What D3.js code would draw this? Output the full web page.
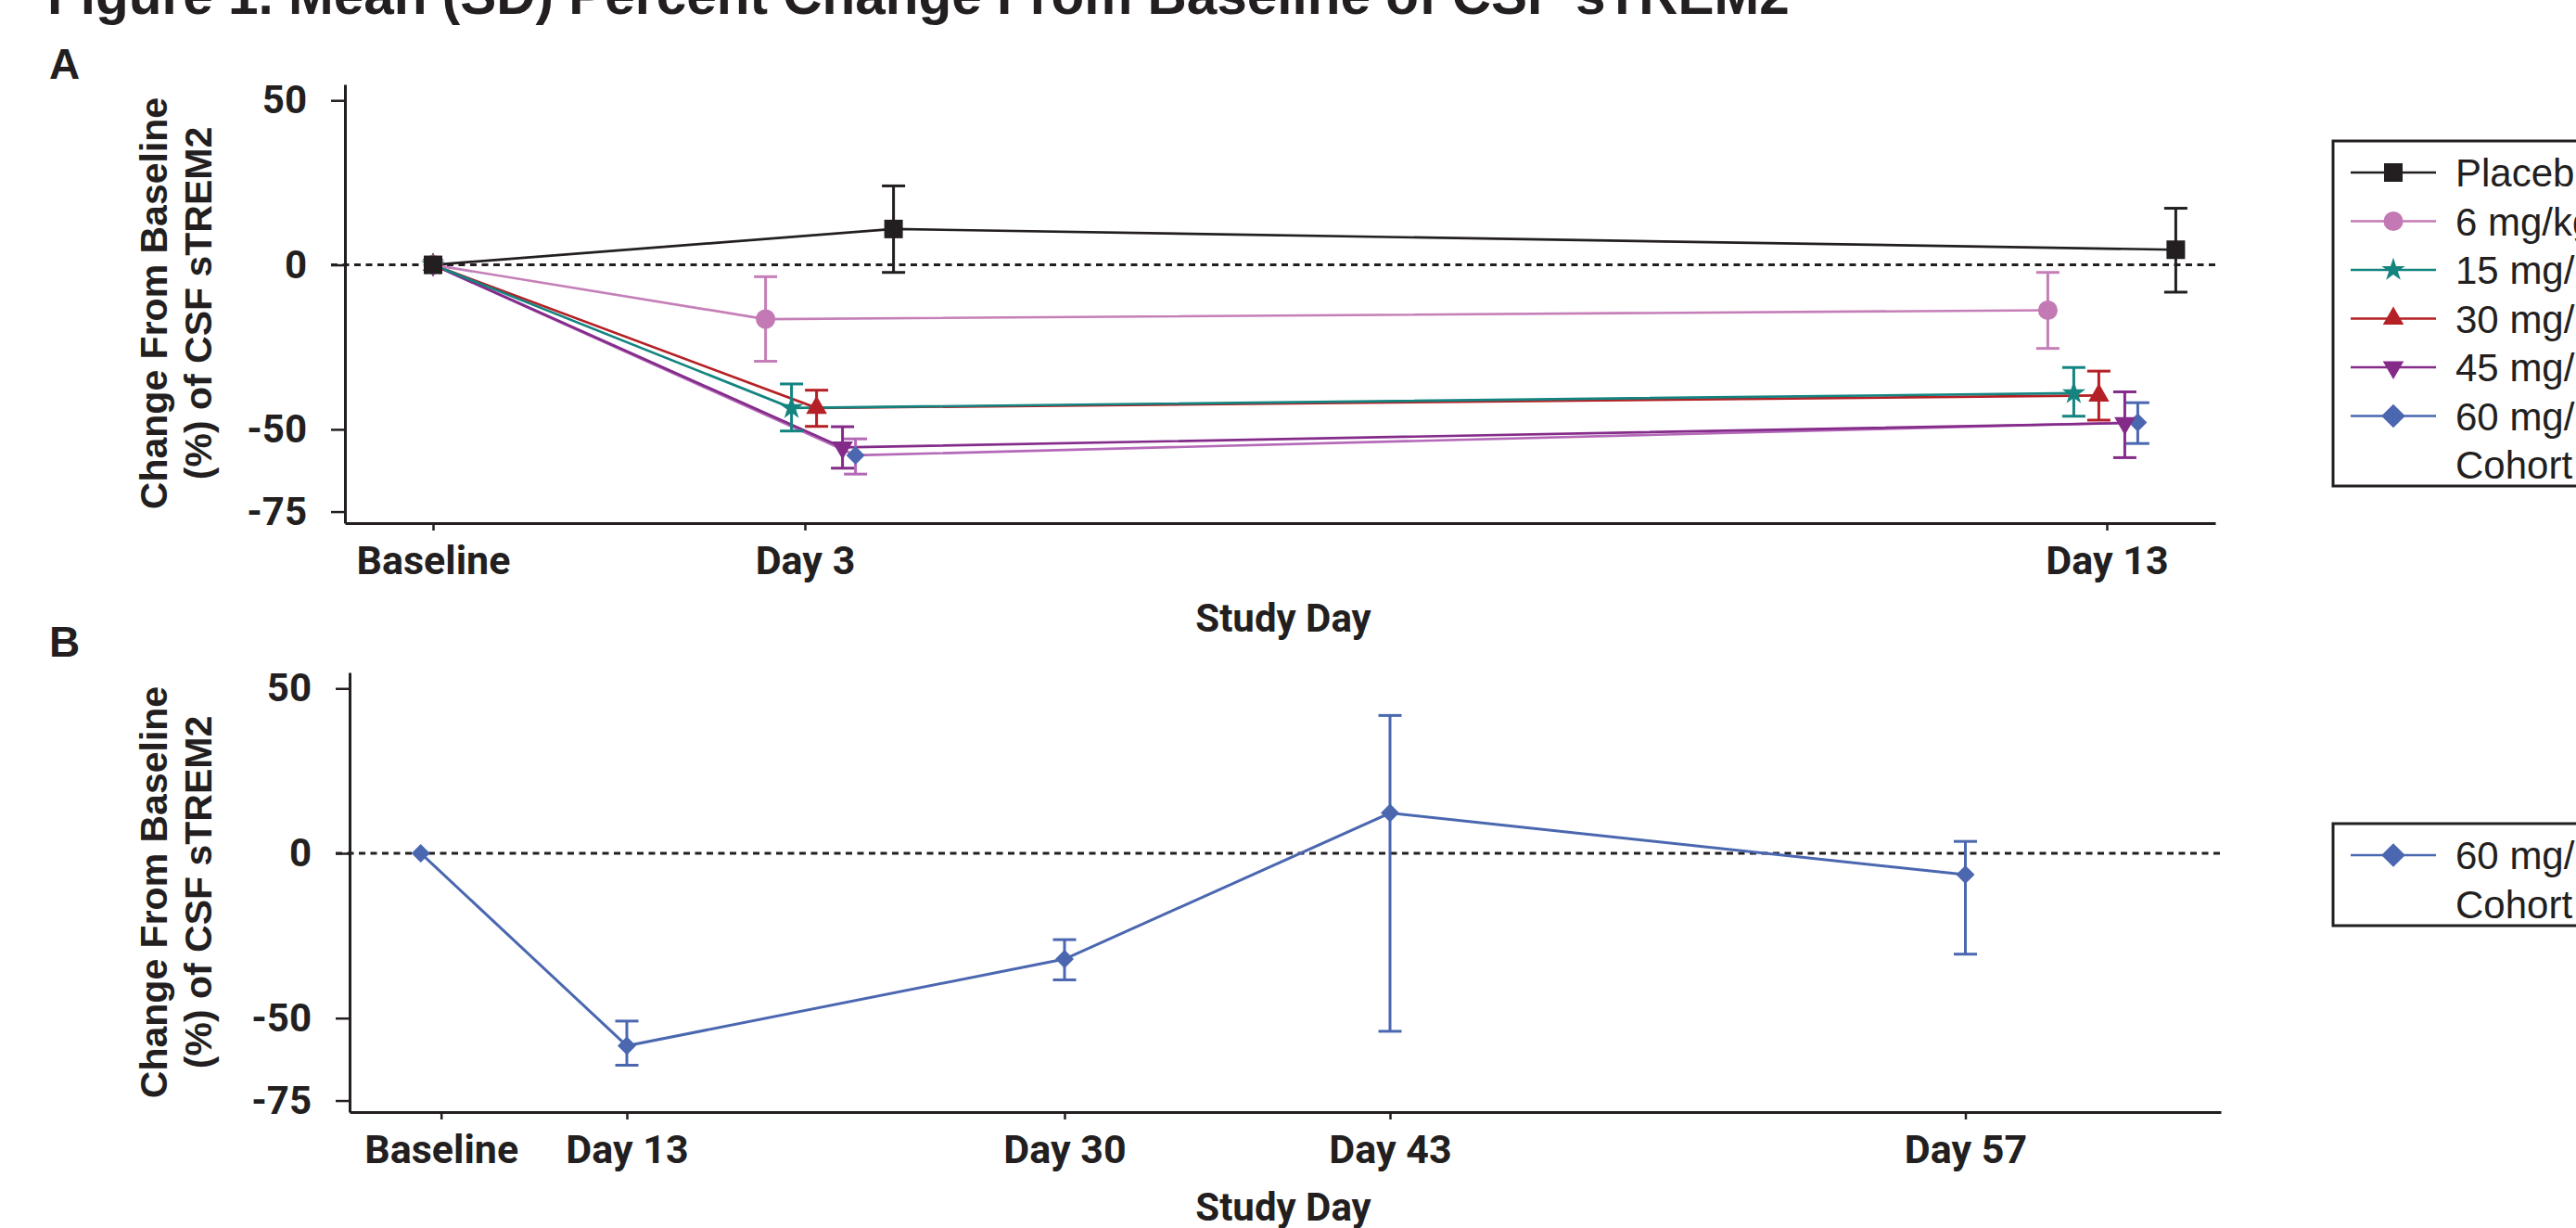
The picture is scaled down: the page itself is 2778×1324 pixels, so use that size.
<!DOCTYPE html>
<html>
<head>
<meta charset="utf-8">
<script src="https://cdnjs.cloudflare.com/ajax/libs/d3/7.8.5/d3.min.js"></script>
<style>
  body { margin: 0; background: #fff; }
  .tick text { font-family: Roboto, "Liberation Sans", sans-serif; font-weight: 700; fill: #231f20; }
</style>
</head>
<body>
<svg id="chart"></svg>
<script>
// ---------- Panel A data ----------
var dayA = [0, 3, 13];
var dayLabelA = ["Baseline", "Day 3", "Day 13"];
var groupA = ["Placebo", "6 mg/kg", "15 mg/kg", "30 mg/kg", "45 mg/kg", "60 mg/kg"];

var placeboMean = [0, 10.9, 4.6];
var placeboLow  = [0, -2.3, -8.3];
var placeboHigh = [0, 24.0, 17.2];
var mg6Mean  = [0, -16.5, -13.8];
var mg6Low   = [0, -29.3, -25.4];
var mg6High  = [0, -3.6, -2.3];
var mg15Mean = [0, -43.5, -39.0];
var mg15Low  = [0, -50.5, -46.0];
var mg15High = [0, -36.2, -31.2];
var mg30Mean = [0, -43.5, -39.7];
var mg30Low  = [0, -49.1, -47.2];
var mg30High = [0, -38.1, -32.3];
var mg45Mean = [0, -55.5, -48.1];
var mg45Low  = [0, -61.8, -58.6];
var mg45High = [0, -49.2, -38.6];
var mg60Mean = [0, -57.9, -47.9];
var mg60Low  = [0, -63.6, -54.3];
var mg60High = [0, -52.9, -41.9];

// ---------- Panel B data ----------
var dayB = [0, 13, 30, 43, 57];
var dayLabelB = ["Baseline", "Day 13", "Day 30", "Day 43", "Day 57"];
var cohortMean = [0, -58.4, -32.1, 12.2, -6.5];
var cohortLow  = [0, -64.3, -38.4, -54.0, -30.6];
var cohortHigh = [0, -50.9, -26.2, 41.8, 3.6];

var yTicks = [50, 0, -50, -75];

// ---------- styles ----------
var ink = "#231f20";
var blue = "#4a67b0";
var markerColA = [ink, "#c279b4", "#138480", "#b42025", "#842b8a", blue];
var lineColA   = [ink, "#c57fb8", "#138480", "#b42025", "#842b8a", "#b469b8"];
var dodgeA = [85, -53, -25, 2, 30, 44];   // px, side by side at each visit
var shiftA = [0, 10.6, -10.6];

var markers = [
  {type: d3.symbolSquare, size: 400, rot: 0},
  {type: d3.symbolCircle, size: 350, rot: 0},
  {type: d3.symbolStar, size: 200, rot: 0},
  {type: d3.symbolTriangle, size: 220, rot: 0},
  {type: d3.symbolTriangle, size: 220, rot: 180},
  {type: d3.symbolSquare, size: 200, rot: 45}
];

var svg = d3.select("#chart").attr("width", 2778).attr("height", 1324);

// title (cut off at the top edge in the original)
svg.append("text")
  .attr("x", 51).attr("y", 15)
  .style("font-family", "Liberation Sans, Arial, sans-serif")
  .style("font-weight", 700).style("font-size", "58.5px").style("fill", ink)
  .text("Figure 1. Mean (SD) Percent Change From Baseline of CSF sTREM2");

function panelLetter(txt, y) {
  svg.append("text").attr("x", 53).attr("y", y)
    .style("font-family", "Liberation Sans, Arial, sans-serif")
    .style("font-weight", 700).style("font-size", "46px").style("fill", ink)
    .text(txt);
}
panelLetter("A", 85);
panelLetter("B", 708);

function yTitle(cy) {
  var lines = ["Change From Baseline", "(%) of CSF sTREM2"];
  var xs = [180, 228];
  lines.forEach(function(l, i) {
    svg.append("text")
      .attr("transform", "translate(" + xs[i] + "," + cy + ") rotate(-90)")
      .attr("text-anchor", "middle")
      .style("font-family", "Liberation Sans, Arial, sans-serif")
      .style("font-weight", 700).style("font-size", "41px").style("fill", ink)
      .text(l);
  });
}

function drawAxes(x, y, ticks, labels, axisY, axisX) {
  var gy = svg.append("g").attr("transform", "translate(" + axisX + ",0)")
    .call(d3.axisLeft(y).tickValues(yTicks).tickFormat(function(d){ return String(d); })
      .tickSize(15).tickSizeOuter(0).tickPadding(26));
  var gx = svg.append("g").attr("transform", "translate(0," + axisY + ")")
    .call(d3.axisBottom(x).tickValues(ticks).tickFormat(function(d, i){ return labels[i]; })
      .tickSize(8).tickSizeOuter(0).tickPadding(16));
  [gy, gx].forEach(function(g) {
    g.select(".domain").attr("stroke", ink).attr("stroke-width", 3);
    g.selectAll(".tick line").attr("stroke", ink).attr("stroke-width", 2.5);
    g.selectAll(".tick text").style("font-size", "42px");
  });
  gx.selectAll(".tick text").style("font-size", "43px");
  // dashed zero line
  svg.append("line")
    .attr("x1", axisX - 15).attr("x2", x.range()[x.range().length - 1])
    .attr("y1", y(0)).attr("y2", y(0))
    .attr("stroke", ink).attr("stroke-width", 3).attr("stroke-dasharray", "7,5.5");
}

function studyDay(yb) {
  svg.append("text").attr("x", 1384).attr("y", yb).attr("text-anchor", "middle")
    .style("font-family", "Roboto, Liberation Sans, sans-serif")
    .style("font-weight", 700).style("font-size", "42px").style("fill", ink)
    .text("Study Day");
}

function symbolPath(m) { return d3.symbol().type(m.type).size(m.size)(); }

function drawErr(g, px, lo, hi, col) {
  g.append("line").attr("x1", px).attr("x2", px).attr("y1", lo).attr("y2", hi)
    .attr("stroke", col).attr("stroke-width", 3);
  [lo, hi].forEach(function(v) {
    g.append("line").attr("x1", px - 12.5).attr("x2", px + 12.5).attr("y1", v).attr("y2", v)
      .attr("stroke", col).attr("stroke-width", 3);
  });
}

function legendText(g, x, y, txt) {
  g.append("text").attr("x", x).attr("y", y).attr("dy", "0.36em")
    .style("font-family", "Liberation Sans, Arial, sans-serif").style("font-size", "42px").style("fill", ink)
    .text(txt);
}

// ================= Panel A =================
var yA = d3.scaleLinear().domain([-78.5, 54.85]).range([564, 91]);
var xA = d3.scaleLinear().domain([-0.71, 0, 3, 13, 13.83]).range([372, 467, 868, 2272, 2389]);

drawAxes(xA, yA, dayA, dayLabelA, 564, 372);
yTitle(327);
studyDay(681);

var meansA = [placeboMean, mg6Mean, mg15Mean, mg30Mean, mg45Mean, mg60Mean];
var lowsA  = [placeboLow, mg6Low, mg15Low, mg30Low, mg45Low, mg60Low];
var highsA = [placeboHigh, mg6High, mg15High, mg30High, mg45High, mg60High];

function pxA(s, t) { return xA(dayA[t]) + (t > 0 ? dodgeA[s] + shiftA[t] : 0); }

var drawOrder = [5, 4, 3, 2, 1, 0];
var gLines = svg.append("g"), gErr = svg.append("g"), gMark = svg.append("g");
drawOrder.forEach(function(s) {
  var pts = dayA.map(function(d, t) { return [pxA(s, t), yA(meansA[s][t])]; });
  gLines.append("path").attr("d", d3.line()(pts))
    .attr("fill", "none").attr("stroke", lineColA[s]).attr("stroke-width", 2.7);
  dayA.forEach(function(d, t) {
    if (lowsA[s][t] === highsA[s][t]) return;
    var col = (s === 5 && t === 2) ? blue : lineColA[s];
    drawErr(gErr, pxA(s, t), yA(lowsA[s][t]), yA(highsA[s][t]), col);
  });
  dayA.forEach(function(d, t) {
    gMark.append("path").attr("d", symbolPath(markers[s]))
      .attr("transform", "translate(" + pxA(s, t) + "," + yA(meansA[s][t]) + ") rotate(" + markers[s].rot + ")")
      .attr("fill", markerColA[s]);
  });
});

// legend A
var rowH = 52.5;
var legA = svg.append("g");
legA.append("rect").attr("x", 2516).attr("y", 152).attr("width", 400).attr("height", 34 + 6 * rowH + 23)
  .attr("fill", "none").attr("stroke", ink).attr("stroke-width", 3);
groupA.forEach(function(name, i) {
  var ly = 186 + i * rowH;
  legA.append("line").attr("x1", 2535).attr("x2", 2627).attr("y1", ly).attr("y2", ly)
    .attr("stroke", markerColA[i]).attr("stroke-width", 2.7);
  var m = Object.assign({}, markers[i]);
  if (i === 5) m.size = 330;
  legA.append("path").attr("d", symbolPath(m))
    .attr("transform", "translate(2581," + ly + ") rotate(" + m.rot + ")")
    .attr("fill", markerColA[i]);
  legendText(legA, 2648, ly, name);
});
legendText(legA, 2648, 186 + 6 * rowH, "Cohort");

// ================= Panel B =================
var yB = d3.scaleLinear().domain([-78.5, 54.85]).range([1199, 725]);
var xB = d3.scaleLinear().domain([-6.4, 0, 13, 30, 43, 57, 63.2])
  .range([377, 475.7, 676, 1148, 1499, 2119.5, 2395]);
var shiftB = [-22, 0, 0, 0, 0];

drawAxes(xB, yB, dayB, dayLabelB, 1199, 377);
yTitle(962);
studyDay(1316);

function pxB(t) { return xB(dayB[t]) + shiftB[t]; }
var ptsB = dayB.map(function(d, t) { return [pxB(t), yB(cohortMean[t])]; });
svg.append("path").attr("d", d3.line()(ptsB))
  .attr("fill", "none").attr("stroke", blue).attr("stroke-width", 3);
var gErrB = svg.append("g");
dayB.forEach(function(d, t) {
  if (cohortLow[t] === cohortHigh[t]) return;
  drawErr(gErrB, pxB(t), yB(cohortLow[t]), yB(cohortHigh[t]), blue);
});
dayB.forEach(function(d, t) {
  svg.append("path").attr("d", symbolPath(markers[5]))
    .attr("transform", "translate(" + pxB(t) + "," + yB(cohortMean[t]) + ") rotate(45)")
    .attr("fill", blue);
});

// legend B
var legB = svg.append("g");
legB.append("rect").attr("x", 2516).attr("y", 888).attr("width", 400).attr("height", 110)
  .attr("fill", "none").attr("stroke", ink).attr("stroke-width", 3);
legB.append("line").attr("x1", 2535).attr("x2", 2627).attr("y1", 922).attr("y2", 922)
  .attr("stroke", blue).attr("stroke-width", 2.7);
legB.append("path").attr("d", d3.symbol().type(d3.symbolSquare).size(330)())
  .attr("transform", "translate(2581,922) rotate(45)").attr("fill", blue);
legendText(legB, 2648, 922, "60 mg/kg");
legendText(legB, 2648, 975, "Cohort");
</script>
</body>
</html>
